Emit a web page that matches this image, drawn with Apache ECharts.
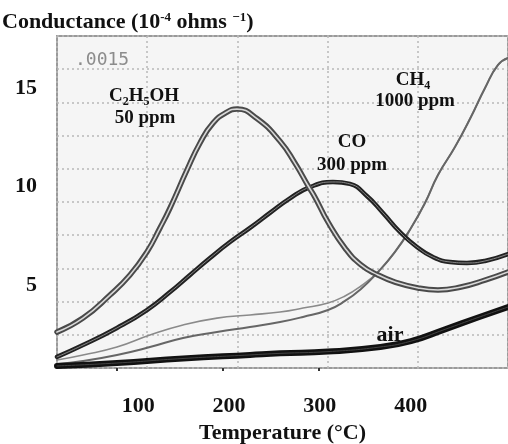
<!DOCTYPE html>
<html>
<head>
<meta charset="utf-8">
<script src="https://cdn.jsdelivr.net/npm/echarts@6/dist/echarts.min.js"></script>
<style>
html,body{margin:0;padding:0;background:#fff;}
#c{width:508px;height:444px;}
</style>
</head>
<body>
<div id="c"></div>
<script>
// ---- data (temperature °C, conductance 10^-4 ohm^-1) ----
const xTickLabels = [100, 200, 300, 400];
const yTickLabels = [5, 10, 15];

const tempEthanol = [10.7,39.3,69.0,91.0,109.7,124.1,135.1,153.8,168.1,182.4,197.8,208.8,230.8,256.2,272.6,286.9,294.7,308.9,327.6,345.3,364.0,382.7,408.0,430.0,455.3,481.8,507.1];
const ethanol     = [2.61,3.32,4.49,5.51,6.68,7.90,8.91,10.84,12.21,13.22,13.78,13.93,13.45,12.30,11.19,10.05,9.45,8.20,6.88,6.02,5.51,5.15,4.85,4.75,4.90,5.25,5.66];

const tempCO = [10.7,39.3,76.7,109.7,135.1,157.1,179.1,201.1,223.1,245.1,267.1,289.1,314.4,333.1,351.8,369.5,388.2,406.9,424.5,443.2,461.9,481.7,507.1];
const co     = [1.35,1.95,2.82,3.73,4.64,5.51,6.37,7.18,7.90,8.66,9.40,9.97,10.23,10.13,9.52,8.66,7.69,6.93,6.42,6.17,6.12,6.22,6.57];

const tempCH4 = [10.7,39.3,76.7,113.0,149.4,186.8,223.1,256.2,281.5,309.0,327.7,345.3,364.0,382.7,400.3,415.7,430.0,448.7,466.3,481.8,496.1,507.1];
const ch4A    = [1.19,1.45,1.85,2.46,2.97,3.32,3.48,3.63,3.83,4.09,4.44,4.95,5.66,6.68,7.89,9.16,10.58,12.00,13.53,15.00,16.17,16.52];
const ch4B    = [0.99,1.14,1.45,1.85,2.31,2.61,2.87,3.12,3.38,3.73,4.19,4.80,5.66,6.68,7.89,9.16,10.58,12.00,13.53,15.00,16.17,16.52];

const tempAir = [10.7,76.7,149.4,223.1,256.2,309.0,364.0,400.3,437.8,474.1,507.1];
const air     = [0.89,1.04,1.27,1.45,1.53,1.62,1.84,2.15,2.75,3.35,3.88];

const xBottomMarks = [77, 193, 299];

function pairs(xs, ys){ return xs.map((x,i)=>[x, ys[i]]); }

const serif = 'Liberation Serif';
const chart = echarts.init(document.getElementById('c'), null, {renderer:'canvas'});

function line(name, data, color, width, z){
  return {
    name, type:'line', xAxisIndex:0, yAxisIndex:0, data, smooth:0.5,
    showSymbol:false, symbol:'none', z:z, silent:true,
    lineStyle:{color, width, cap:'round', join:'round'}
  };
}

const option = {
  animation:false,
  backgroundColor:'#ffffff',
  title:{
    left:2, top:11, padding:0,
    text:'{m|Conductance (10}{s|-4}{m| ohms }{s|\u22121}{m|)}',
    textStyle:{
      rich:{
        m:{fontFamily:serif, fontWeight:'bold', fontSize:22, lineHeight:28, color:'#111', verticalAlign:'top'},
        s:{fontFamily:serif, fontWeight:'bold', fontSize:13, lineHeight:13, color:'#111', verticalAlign:'top'}
      }
    }
  },
  grid:{
    left:57, right:0, top:36, bottom:76,
    outerBoundsMode:'none', containLabel:false,
    show:true, backgroundColor:'#f5f5f5', borderColor:'#9a9a9a', borderWidth:2
  },
  xAxis:[
    {
      type:'value', min:10.7, max:507.1, position:'bottom',
      axisLine:{show:false},
      axisTick:{show:true, customValues:xBottomMarks, length:3, inside:false, lineStyle:{color:'#333', width:2}},
      axisLabel:{customValues:xTickLabels, margin:27, fontFamily:serif, fontWeight:'bold', fontSize:22, lineHeight:22, color:'#111'},
      splitLine:{show:false},
      name:'Temperature (\u00b0C)', nameLocation:'middle', nameGap:49,
      nameTextStyle:{fontFamily:serif, fontWeight:'bold', fontSize:22, lineHeight:22, color:'#111'}
    },
    {
      type:'value', min:0, max:5, interval:1, position:'top',
      axisLine:{show:false}, axisTick:{show:false}, axisLabel:{show:false},
      splitLine:{show:true, lineStyle:{color:'#b8b8b8', width:1.5, type:[2,3]}}
    }
  ],
  yAxis:[
    {
      type:'value', min:0.787, max:17.64,
      axisLine:{show:false}, axisTick:{show:false},
      axisLabel:{customValues:yTickLabels, margin:20, fontFamily:serif, fontWeight:'bold', fontSize:22, color:'#111'},
      splitLine:{show:false}
    },
    {
      type:'value', min:0, max:10, interval:1, position:'right',
      axisLine:{show:false}, axisTick:{show:false}, axisLabel:{show:false},
      splitLine:{show:true, lineStyle:{color:'#b8b8b8', width:1.5, type:[2,3]}}
    }
  ],
  series:[
    line('CH4 a', pairs(tempCH4, ch4A), '#8a8a8a', 1.6, 2),
    line('CH4 b', pairs(tempCH4, ch4B), '#666', 2, 2),
    line('air', pairs(tempAir, air), '#111', 6, 3),
    line('air inner', pairs(tempAir, air), '#444', 1, 4),
    line('CO', pairs(tempCO, co), '#222', 4.5, 5),
    line('CO inner', pairs(tempCO, co), '#888', 1, 6),
    line('C2H5OH', pairs(tempEthanol, ethanol), '#4a4a4a', 5.5, 7),
    line('C2H5OH inner', pairs(tempEthanol, ethanol), '#d8d8d8', 1.6, 8)
  ],
  graphic:[
    {type:'text', left:75, top:51, z:20, style:{text:'.0015', font:'18px "DejaVu Sans Mono"', fill:'#8c8c8c'}},
    {type:'text', x:144, y:96, z:20, style:{
      text:'{m|C}{s|2}{m|H}{s|5}{m|OH}', align:'center', verticalAlign:'middle',
      rich:{
        m:{fontFamily:serif, fontWeight:'bold', fontSize:19, lineHeight:19, fill:'#111', verticalAlign:'top'},
        s:{fontFamily:serif, fontWeight:'bold', fontSize:12, lineHeight:12, padding:[9,0,0,0], fill:'#111', verticalAlign:'top'}
      }}},
    {type:'text', x:145, y:118, z:20, style:{text:'50 ppm', align:'center', verticalAlign:'middle', font:'bold 19px "Liberation Serif"', fill:'#111'}},
    {type:'text', x:413, y:80, z:20, style:{
      text:'{m|CH}{s|4}', align:'center', verticalAlign:'middle',
      rich:{
        m:{fontFamily:serif, fontWeight:'bold', fontSize:19, lineHeight:19, fill:'#111', verticalAlign:'top'},
        s:{fontFamily:serif, fontWeight:'bold', fontSize:12, lineHeight:12, padding:[9,0,0,0], fill:'#111', verticalAlign:'top'}
      }}},
    {type:'text', x:415, y:101, z:20, style:{text:'1000 ppm', align:'center', verticalAlign:'middle', font:'bold 19px "Liberation Serif"', fill:'#111'}},
    {type:'text', x:352, y:142, z:20, style:{text:'CO', align:'center', verticalAlign:'middle', font:'bold 19px "Liberation Serif"', fill:'#111'}},
    {type:'text', x:352, y:165, z:20, style:{text:'300 ppm', align:'center', verticalAlign:'middle', font:'bold 19px "Liberation Serif"', fill:'#111'}},
    {type:'text', x:390, y:335, z:20, style:{text:'air', align:'center', verticalAlign:'middle', font:'bold 22px "Liberation Serif"', fill:'#111'}}
  ]
};
chart.setOption(option);
</script>
</body>
</html>
